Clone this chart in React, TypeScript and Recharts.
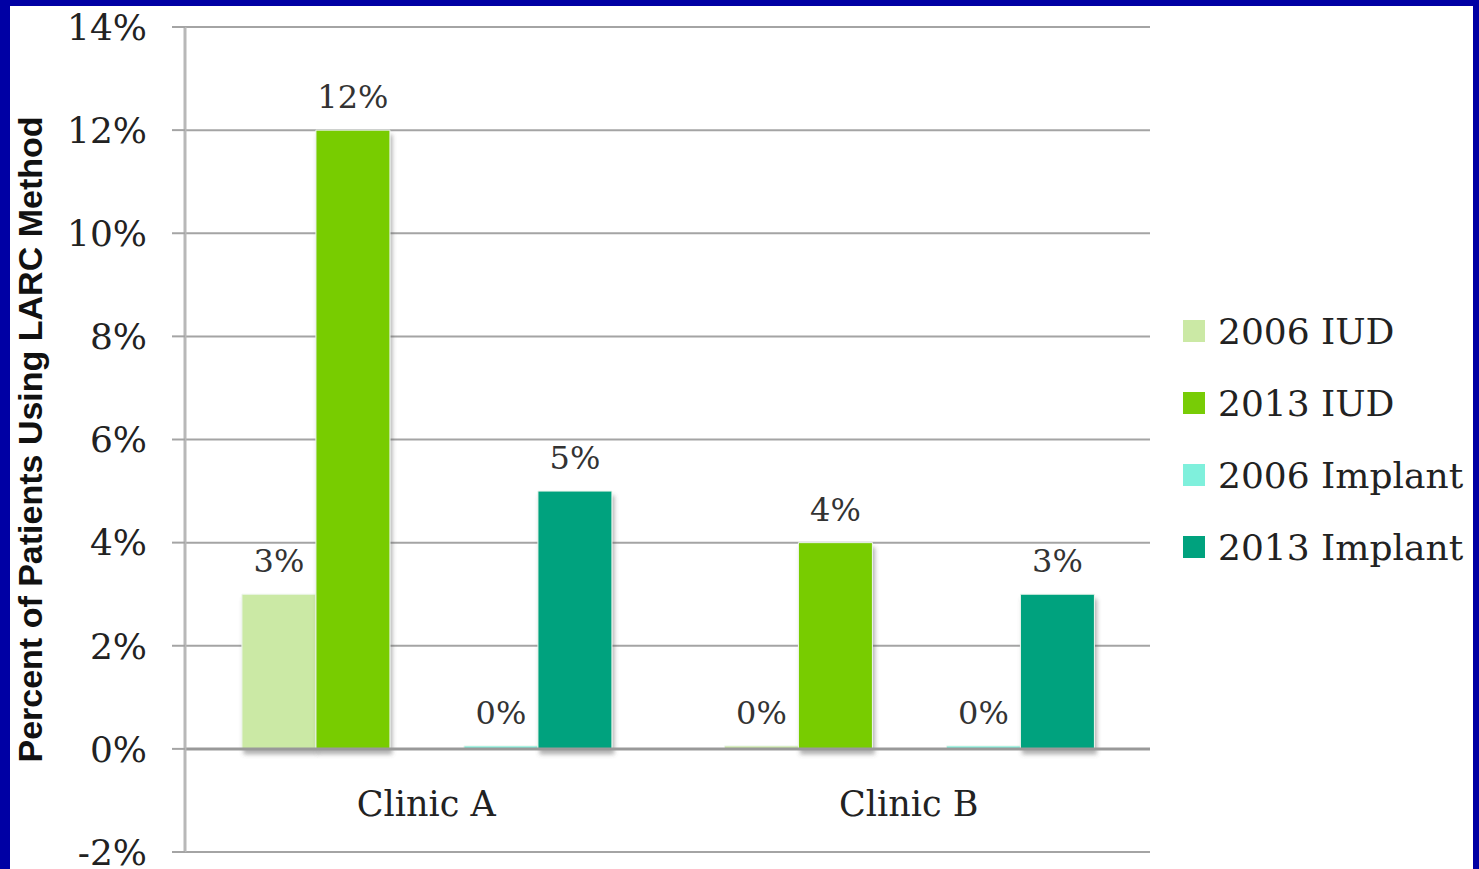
import React from 'react';
import { BarChart, Bar, XAxis, YAxis, CartesianGrid, Legend, LabelList, ReferenceLine } from 'recharts';

// values in percent of patients
const clinics = ['Clinic A', 'Clinic B'];
const iud2006 = [3, 0];
const iud2013 = [12, 4];
const implant2006 = [0, 0];
const implant2013 = [5, 3];
const yTicks = [-2, 0, 2, 4, 6, 8, 10, 12, 14];

const series = [
  { key: 'iud2006', name: '2006 IUD', color: '#cbe9a5' },
  { key: 'iud2013', name: '2013 IUD', color: '#78cc06' },
  { key: 'implant2006', name: '2006 Implant', color: '#7ff0dc' },
  { key: 'implant2013', name: '2013 Implant', color: '#00a27e' },
];

const data = clinics.map((clinic, i) => ({
  clinic,
  iud2006: iud2006[i],
  iud2013: iud2013[i],
  implant2006: implant2006[i],
  implant2013: implant2013[i],
}));

const serif = '"DejaVu Serif", serif';
const pct = (v: number) => `${v}%`;
const order = series.map((s) => s.name);

function ClinicTick({ x, y, payload }: any) {
  return (
    <text x={x} y={y - 36} textAnchor="middle" fontFamily={serif} fontSize={35} fill="#222">
      {payload.value}
    </text>
  );
}

function LegendBox({ payload }: any) {
  const items = (payload || [])
    .filter((p: any) => p.type !== 'none')
    .sort((a: any, b: any) => order.indexOf(a.value) - order.indexOf(b.value));
  return (
    <div>
      {items.map((p: any) => (
        <div key={p.value} style={{ display: 'flex', alignItems: 'center', height: 72 }}>
          <span style={{ width: 22, height: 22, background: p.color, marginRight: 13, display: 'inline-block' }} />
          <span style={{ fontFamily: serif, fontSize: 36, color: '#222', whiteSpace: 'nowrap' }}>{p.value}</span>
        </div>
      ))}
    </div>
  );
}

function renderBar(s: { key: string; name: string; color: string }) {
  return (
    <Bar key={s.key} dataKey={s.key} name={s.name} fill={s.color} stroke="#eef6ee" strokeWidth={1}
      minPointSize={3} filter="url(#barShadow)" isAnimationActive={false}>
      <LabelList dataKey={s.key} position="top" offset={22} formatter={pct}
        style={{ fontFamily: serif, fontSize: 32, fill: '#333' }} />
    </Bar>
  );
}

export default function App() {
  return (
    <div style={{ position: 'fixed', left: 0, top: 0, width: 1479, height: 869, background: '#0000a4', overflow: 'hidden' }}>
      <div style={{ position: 'absolute', left: 10, top: 6, width: 1463, height: 880, background: '#fff' }} />
      <div style={{ position: 'absolute', left: 0, top: 0 }}>
        <BarChart
          width={1479}
          height={869}
          data={data}
          margin={{ top: 27, right: 329, bottom: 16, left: 0 }}
          barCategoryGap="11.8%"
          barGap={0}
        >
          <defs>
            <filter id="barShadow" x="-10%" y="-10%" width="130%" height="130%">
              <feDropShadow dx="2" dy="5" stdDeviation="2" floodColor="#555" floodOpacity="0.45" />
            </filter>
          </defs>
          <CartesianGrid vertical={false} stroke="#a4a4a4" strokeWidth={2} />
          <XAxis dataKey="clinic" height={1} axisLine={false} tickLine={false} tickSize={0} tickMargin={0} tick={<ClinicTick />} />
          <YAxis
            width={185}
            domain={[-2, 14]}
            ticks={yTicks}
            interval={0}
            tickFormatter={pct}
            tickSize={13}
            tickMargin={25}
            axisLine={{ stroke: '#b8b8b8', strokeWidth: 3 }}
            tickLine={{ stroke: '#a4a4a4', strokeWidth: 2 }}
            tick={{ fontFamily: serif, fontSize: 36, fill: '#222' }}
            label={{
              value: 'Percent of Patients Using LARC Method',
              angle: -90,
              position: 'insideLeft',
              offset: 30,
              style: { textAnchor: 'middle', fontFamily: '"Liberation Sans", Arial, sans-serif', fontWeight: 700, fontSize: 34, fill: '#111' },
            }}
          />
          <ReferenceLine y={0} stroke="#999" strokeWidth={3} />
          {series.slice(0, 2).map(renderBar)}
          <Bar dataKey="spacer" legendType="none" fill="none" isAnimationActive={false} />
          {series.slice(2).map(renderBar)}
          <Legend
            content={<LegendBox />}
            layout="horizontal"
            align="center"
            verticalAlign="middle"
            wrapperStyle={{ left: 1183, top: 295, width: 290 }}
          />
        </BarChart>
      </div>
    </div>
  );
}
